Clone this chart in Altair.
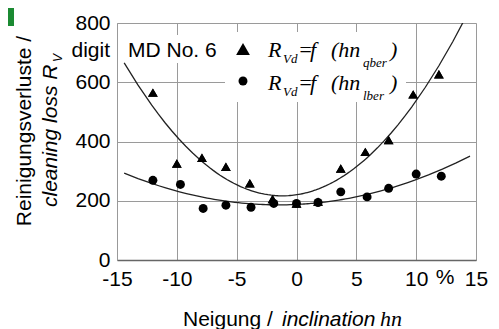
import altair as alt
import pandas as pd

# inclination hn (%) and cleaning loss R_Vd (digit)
x_qber = [-12, -10, -7.9, -5.9, -3.9, -2, 0, 1.8, 3.7, 5.75, 7.7, 9.75, 11.9]
y_qber = [565, 326, 345, 315, 259, 206, 191, 197, 309, 365, 405, 559, 627]
x_lber = [-12, -9.7, -7.8, -5.9, -3.8, -1.9, 0, 1.8, 3.7, 5.9, 7.7, 10, 12.1]
y_lber = [269, 255, 174, 185, 178, 191, 191, 194, 230, 213, 242, 290, 283]

x_ticks = [-15, -10, -5, 0, 5, 10, 15]
y_ticks = [0, 200, 400, 600, 800]

SANS = "Liberation Sans, Arial, Helvetica, sans-serif"
SERIF = "Liberation Serif, Times New Roman, serif"

dq = pd.DataFrame({"x": x_qber, "y": y_qber})
dl = pd.DataFrame({"x": x_lber, "y": y_lber})

xs = alt.Scale(domain=[-15, 15], nice=False, zero=False)
ys = alt.Scale(domain=[0, 800], nice=False)
xax = alt.Axis(values=x_ticks, title=None, grid=True, gridColor="#9a9a9a", gridWidth=1,
               ticks=False, labelFont=SANS, labelFontSize=21, labelColor="black",
               labelPadding=8, domainColor="#666", domainWidth=1.5, labelFlush=False,
               labelExpr="'' + datum.value")
yax = alt.Axis(values=y_ticks, title=None, grid=True, gridColor="#9a9a9a", gridWidth=1,
               ticks=False, labelFont=SANS, labelFontSize=21, labelColor="black",
               labelPadding=7, domainColor="#999", domainWidth=1, labelFlush=False)

base_q = alt.Chart(dq)
base_l = alt.Chart(dl)

pts_q = base_q.mark_point(shape="triangle-up", filled=True, color="black", opacity=1, size=95).encode(
    x=alt.X("x:Q", scale=xs, axis=xax), y=alt.Y("y:Q", scale=ys, axis=yax))
pts_l = base_l.mark_point(shape="circle", filled=True, color="black", opacity=1, size=80).encode(
    x=alt.X("x:Q", scale=xs), y=alt.Y("y:Q", scale=ys))

fit_q = base_q.transform_regression("x", "y", method="poly", order=2, extent=[-14.4, 14.2]).mark_line(
    color="#222", strokeWidth=1.3, clip=True).encode(x=alt.X("x:Q", scale=xs), y=alt.Y("y:Q", scale=ys))
fit_l = base_l.transform_regression("x", "y", method="poly", order=2, extent=[-14.4, 14.5]).mark_line(
    color="#222", strokeWidth=1.3, clip=True).encode(x=alt.X("x:Q", scale=xs), y=alt.Y("y:Q", scale=ys))

def box(x1, x2, y1, y2, color="white"):
    return alt.Chart(pd.DataFrame({"a": [0]})).mark_rect(color=color).encode(
        x=alt.value(x1), x2=alt.value(x2), y=alt.value(y1), y2=alt.value(y2))

def txt(df, font, size, style="normal", angle=0, align="left", baseline="alphabetic"):
    return alt.Chart(df).mark_text(font=font, fontSize=size, fontStyle=style, angle=angle,
                                   align=align, baseline=baseline, color="black").encode(
        x=alt.X("px:Q", scale=None), y=alt.Y("py:Q", scale=None), text="t:N")

green = box(-109, -103, -15, 3, color="#1b8a32")
white1 = box(8, 105, 12, 40)
white2 = box(108, 289, 9, 79)

sans_txt = txt(pd.DataFrame({"t": ["MD No. 6", "Neigung /"], "px": [11, 66], "py": [34, 303]}), SANS, 21)
digit_txt = txt(pd.DataFrame({"t": ["digit"], "px": [-7], "py": [28]}), SANS, 21, align="right", baseline="middle")
pct_txt = txt(pd.DataFrame({"t": ["%"], "px": [328], "py": [255]}), SANS, 21, align="center", baseline="middle")
incl_txt = txt(pd.DataFrame({"t": ["inclination"], "px": [165], "py": [303]}), SANS, 21, style="italic")
hn_txt = txt(pd.DataFrame({"t": ["hn"], "px": [263], "py": [303]}), SERIF, 22, style="italic")
ytitle1 = txt(pd.DataFrame({"t": ["Reinigungsverluste /"], "px": [-92], "py": [108]}), SANS, 21,
              angle=270, align="center", baseline="middle")
ytitle2 = txt(pd.DataFrame({"t": ["cleaning loss R"], "px": [-66], "py": [184]}), SANS, 21, style="italic",
              angle=270, align="left", baseline="middle")
ytitle_sub = txt(pd.DataFrame({"t": ["V"], "px": [-59], "py": [35]}), SANS, 12, style="italic",
                 angle=270, align="center", baseline="middle")

leg_big = txt(pd.DataFrame({"t": ["R", "=", "f", "(hn", ")", "R", "=", "f", "(hn", ")"],
                            "px": [151, 181, 193, 214, 273, 151, 181, 193, 214, 273],
                            "py": [34, 34, 34, 34, 34, 67, 67, 67, 67, 67]}), SERIF, 22, style="italic")
leg_small = txt(pd.DataFrame({"t": ["Vd", "qber", "Vd", "lber"],
                              "px": [166, 246, 166, 246],
                              "py": [40, 44, 73, 77]}), SERIF, 13, style="italic")
leg_tri = alt.Chart(pd.DataFrame({"a": [0]})).mark_point(shape="triangle-up", filled=True, color="black",
                                                         opacity=1, size=190).encode(
    x=alt.value(126), y=alt.value(26))
leg_cir = alt.Chart(pd.DataFrame({"a": [0]})).mark_point(shape="circle", filled=True, color="black",
                                                         opacity=1, size=80).encode(
    x=alt.value(126), y=alt.value(58))

chart = alt.layer(
    pts_q, white1, white2, fit_q, fit_l, pts_l, pts_q,
    green, sans_txt, digit_txt, pct_txt, incl_txt, hn_txt, ytitle1, ytitle2, ytitle_sub,
    leg_big, leg_small, leg_tri, leg_cir,
).properties(
    width=359, height=237,
    autosize=alt.AutoSizeParams(type="none"),
    padding={"left": 109, "top": 15, "right": 13, "bottom": 70},
).configure_view(stroke="#999", strokeWidth=1).configure(background="white")

chart.save("out.html", embed_options={"renderer": "svg", "actions": False})
